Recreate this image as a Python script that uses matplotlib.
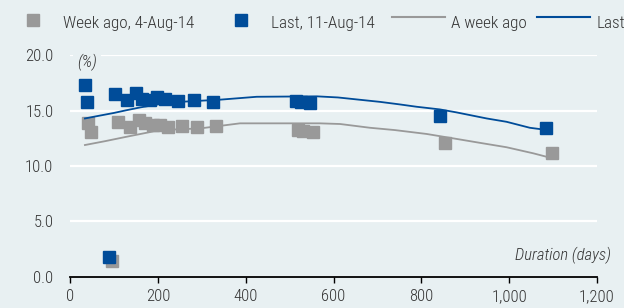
import matplotlib
matplotlib.use("Agg")
import matplotlib.pyplot as plt
from matplotlib.lines import Line2D
from matplotlib.ticker import FuncFormatter

plt.rcParams['font.family'] = ['Roboto Condensed', 'DejaVu Sans']

# Data
last_days = [34, 38, 89, 102, 129, 150, 163, 182, 197, 216, 247, 282, 325, 515, 526, 546, 842, 1085]
last_vals = [17.3, 15.75, 1.75, 16.5, 15.96, 16.57, 16.1, 15.96, 16.26, 16.1, 15.9, 15.96, 15.8,
             15.9, 15.8, 15.66, 14.5, 13.46]
week_days = [42, 47, 95, 109, 136, 157, 170, 189, 204, 223, 254, 289, 332, 520, 531, 554, 854, 1097]
week_vals = [13.85, 13.1, 1.45, 14.0, 13.55, 14.15, 13.85, 13.7, 13.7, 13.55, 13.6, 13.5, 13.6,
             13.25, 13.2, 13.1, 12.05, 11.2]

curve_last_days = [34, 60, 100, 129, 160, 205, 250, 342, 425, 562, 610, 653, 706, 751, 789, 842, 880, 949, 994, 1047, 1078]
curve_last_vals = [14.3, 14.5, 14.8, 15.05, 15.3, 15.6, 15.8, 16.0, 16.26, 16.3, 16.2, 16.02, 15.8, 15.57, 15.36, 15.12, 14.85, 14.3, 14.0, 13.46, 13.3]
curve_week_days = [34, 80, 129, 205, 296, 387, 569, 615, 683, 740, 812, 873, 933, 994, 1055, 1085]
curve_week_vals = [11.9, 12.25, 12.65, 13.25, 13.4, 13.86, 13.86, 13.8, 13.46, 13.25, 12.9, 12.5, 12.1, 11.7, 11.15, 10.84]

legend_labels = ['Week ago, 4-Aug-14', 'Last, 11-Aug-14', 'A week ago', 'Last']
x_ticks = [0, 200, 400, 600, 800, 1000, 1200]
y_ticks = [0, 5, 10, 15, 20]

BLUE = '#004C99'
GRAY = '#999999'
BG = '#E8F0F2'
TXT = '#333333'
FS = 12
LFS = 12.3
W, H = 624, 308

fig = plt.figure(figsize=(W/100, H/100), dpi=100, facecolor=BG)
ax = fig.add_axes([70/W, 1-276.7/H, 527/W, 221.3/H], facecolor=BG)

ax.plot(week_days, week_vals, 's', color=GRAY, ms=8.5, mec=GRAY, lw=0, zorder=3)
ax.plot(last_days, last_vals, 's', color=BLUE, ms=8.5, mec=BLUE, lw=0, zorder=4)
ax.plot(curve_week_days, curve_week_vals, '-', color=GRAY, lw=1.3, zorder=5)
ax.plot(curve_last_days, curve_last_vals, '-', color=BLUE, lw=1.3, zorder=5)

ax.set_xlim(0, 1200)
ax.set_ylim(0, 20)
ax.set_xticks(x_ticks)
ax.set_yticks(y_ticks)
ax.xaxis.set_major_formatter(FuncFormatter(lambda v, p: f"{int(v):,}"))
ax.yaxis.set_major_formatter(FuncFormatter(lambda v, p: f"{v:.1f}"))
ax.grid(axis='y', color='white', lw=1.6, zorder=0)
ax.set_axisbelow(True)
for s in ['top', 'right', 'left']:
    ax.spines[s].set_visible(False)
ax.spines['bottom'].set_color('black')
ax.spines['bottom'].set_linewidth(1.3)
ax.spines['bottom'].set_zorder(6)
ax.tick_params(axis='x', direction='out', length=4, width=1, color='black',
               labelsize=FS, labelcolor=TXT, pad=5)
ax.tick_params(axis='y', length=0, labelsize=FS, labelcolor=TXT, pad=12)
for lab in ax.get_xticklabels() + ax.get_yticklabels():
    lab.set_fontweight('light')

fig.text(77/W, 1-62/H, '(%)', fontsize=FS, style='italic', color=TXT, fontweight='light',
         ha='left', va='center',
         bbox=dict(boxstyle='square,pad=0.25', facecolor=BG, edgecolor='none'), zorder=10)
fig.text(611/W, 1-255/H, 'Duration (days)', fontsize=FS, style='italic', fontweight='light',
         color=TXT, ha='right', va='center')

# Manual legend across the top (positions in figure pixels)
def fx(px):
    return px / W

def fy(py):
    return 1 - py / H

fig.add_artist(Line2D([fx(32.5)], [fy(19.5)], marker='s', ms=8.8, color=GRAY, mec=GRAY,
                      lw=0, transform=fig.transFigure))
fig.add_artist(Line2D([fx(240.6)], [fy(19.5)], marker='s', ms=8.3, color=BLUE, mec=BLUE,
                      lw=0, transform=fig.transFigure))
fig.add_artist(Line2D([fx(392), fx(445)], [fy(16.7), fy(16.7)], color=GRAY, lw=1.5,
                      transform=fig.transFigure))
fig.add_artist(Line2D([fx(537), fx(590)], [fy(16.7), fy(16.7)], color=BLUE, lw=1.5,
                      transform=fig.transFigure))
for x0, lab in zip([63, 271, 451, 596], legend_labels):
    fig.text(fx(x0), fy(28), lab, fontsize=LFS, color=TXT, fontweight='light',
             ha='left', va='baseline')

fig.savefig('out.png', dpi=100, facecolor=BG)
